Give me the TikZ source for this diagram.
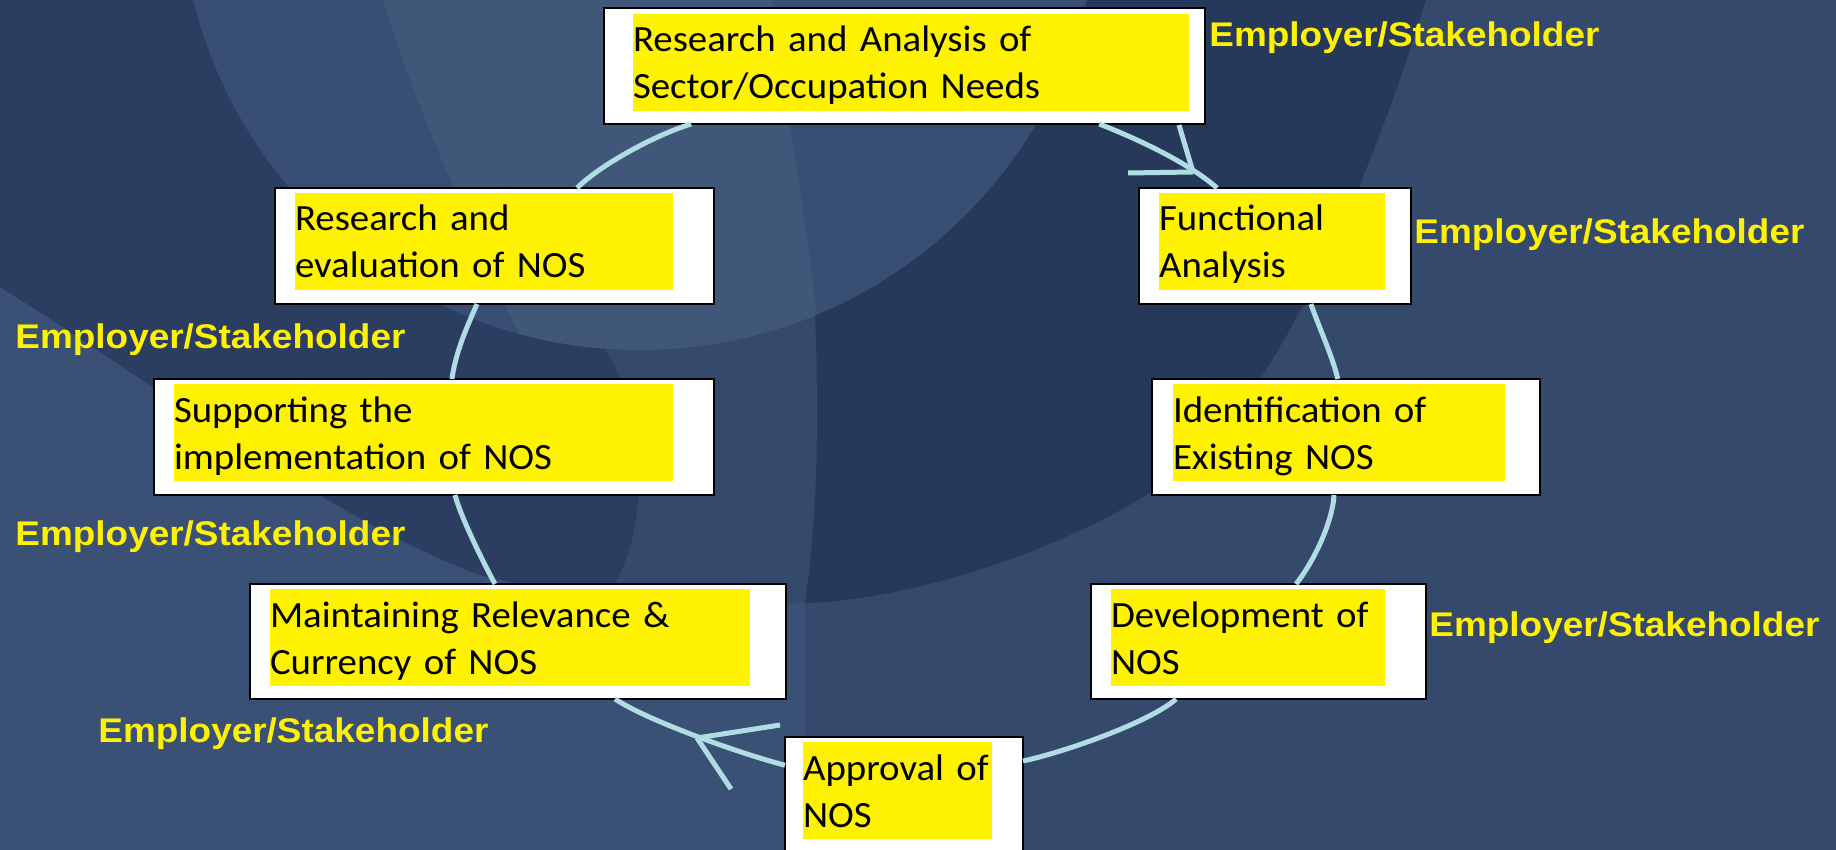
\documentclass[tikz,border=0pt]{standalone}
\usepackage{fontspec}
\newfontfamily\boxfont[FakeStretch=1.05]{Carlito}
\newfontfamily\labfont[FakeStretch=1.08]{Liberation Sans}
\usetikzlibrary{calc}
\definecolor{bgbase}{RGB}{52,73,107}
\definecolor{bgdark}{RGB}{39,57,90}
\definecolor{bgband}{RGB}{43,62,97}
\definecolor{bglens}{RGB}{56,78,115}
\definecolor{bglight}{RGB}{64,87,121}
\definecolor{bglow}{RGB}{58,81,117}
\definecolor{linkc}{RGB}{176,220,228}
\tikzset{
  box/.style={draw=black, line width=1pt, fill=white, anchor=north west, inner sep=0pt, outer sep=0pt},
  hl/.style={fill=yellow, anchor=north west, inner sep=0pt, outer sep=0pt, align=left,
             font=\boxfont\fontsize{18.5pt}{23.5pt}\selectfont},
  lab/.style={text=yellow, anchor=base west, inner sep=0pt, font=\labfont\bfseries\fontsize{17.1pt}{20pt}\selectfont},
  link/.style={draw=linkc, line width=2.5pt}
}
\newcommand\topstrut{\rule{0pt}{19pt}}
\newcommand\botstrut{\rule[-6pt]{0pt}{6pt}}
\begin{document}
\begin{tikzpicture}[x=0.5pt,y=-0.5pt]
\useasboundingbox (0,0) rectangle (1836,850);
\clip (0,0) rectangle (1836,850);
% background
\fill[bgbase] (0,0) rectangle (1836,850);
\fill[bglow] (0,287) .. controls (150,380) and (330,520) .. (480,575)
  .. controls (600,610) and (720,610) .. (805,603) -- (805,850) -- (0,850) -- cycle;
\fill[bgband] (0,0) -- (200,0) -- (600,340) .. controls (650,420) and (650,530) .. (610,592)
  .. controls (560,590) and (520,585) .. (480,575) .. controls (330,520) and (150,380) .. (0,287) -- cycle;
\fill[bgdark] (780,0) -- (1426,0) .. controls (1380,150) and (1300,350) .. (1200,457)
  .. controls (1100,540) and (920,600) .. (805,603) .. controls (820,500) and (830,300) .. (780,0) -- cycle;
\fill[bglens] (640,-110) circle[radius=460];
\begin{scope}
  \clip (640,-110) circle[radius=460];
  \fill[bglight] (383,0) .. controls (420,120) and (480,250) .. (540,380) -- (821,380)
    .. controls (815,250) and (790,150) .. (772,0) -- cycle;
\end{scope}

% boxes
\node[box, minimum width=300.5pt, minimum height=58pt] (top) at (604,8) {};
\node[box, minimum width=136pt, minimum height=58pt] (func) at (1139,188) {};
\node[box, minimum width=194pt, minimum height=58pt] (ident) at (1152,379) {};
\node[box, minimum width=167.5pt, minimum height=57.5pt] (dev) at (1091,584) {};
\node[box, minimum width=119pt, minimum height=60pt] (appr) at (785,737) {};
\node[box, minimum width=268pt, minimum height=57.5pt] (maint) at (250,584) {};
\node[box, minimum width=280pt, minimum height=58pt] (supp) at (154,379) {};
\node[box, minimum width=219.5pt, minimum height=58pt] (reval) at (275,188) {};

\node[hl, text width=278pt] (topT) at (633,14) {\topstrut\mbox{Research and Analysis of}\\\mbox{Sector/Occupation Needs}\botstrut};
\node[hl, text width=113pt] (funcT) at (1159,193) {\topstrut\mbox{Functional}\\\mbox{Analysis}\botstrut};
\node[hl, text width=166pt] (identT) at (1173,384) {\topstrut\mbox{Identification of}\\\mbox{Existing NOS}\botstrut};
\node[hl, text width=137pt] (devT) at (1111,589) {\topstrut\mbox{Development of}\\\mbox{NOS}\botstrut};
\node[hl, text width=94.5pt] (apprT) at (803,742) {\topstrut\mbox{Approval of}\\\mbox{NOS}\botstrut};
\node[hl, text width=240pt] (maintT) at (270,589) {\topstrut\mbox{Maintaining Relevance \&}\\\mbox{Currency of NOS}\botstrut};
\node[hl, text width=249.5pt] (suppT) at (174,384) {\topstrut\mbox{Supporting the}\\\mbox{implementation of NOS}\botstrut};
\node[hl, text width=189pt] (revalT) at (295,193) {\topstrut\mbox{Research and}\\\mbox{evaluation of NOS}\botstrut};

% connectors
\draw[link] ($(top.south west)!0.824!(top.south east)$) .. controls (1130,136) and (1185,160) .. ($(func.north west)!0.287!(func.north east)$);
\draw[link] ($(func.south west)!0.632!(func.south east)$) .. controls (1320,330) and (1332,355) .. ($(ident.north west)!0.479!(ident.north east)$);
\draw[link] ($(ident.south west)!0.469!(ident.south east)$) .. controls (1333,520) and (1315,560) .. ($(dev.north west)!0.612!(dev.north east)$);
\draw[link] ($(dev.south west)!0.254!(dev.south east)$) .. controls (1150,722) and (1065,752) .. ($(appr.north east)!0.2!(appr.south east)$);
\draw[link] ($(appr.north west)!0.235!(appr.south west)$) .. controls (745,755) and (650,722) .. ($(maint.south west)!0.681!(maint.south east)$);
\draw[link] ($(maint.north west)!0.457!(maint.north east)$) .. controls (482,560) and (460,515) .. ($(supp.south west)!0.5375!(supp.south east)$);
\draw[link] ($(supp.north west)!0.532!(supp.north east)$) .. controls (456,350) and (468,325) .. ($(reval.south west)!0.46!(reval.south east)$);
\draw[link] ($(reval.north west)!0.688!(reval.north east)$) .. controls (600,165) and (655,135) .. ($(top.south west)!0.145!(top.south east)$);
% arrowheads
\coordinate (tipA) at (1193,172);
\draw[link] (tipA) -- ++(-14,-47);
\draw[link] (tipA) -- ++(-65,1);
\coordinate (tipB) at (697,738);
\draw[link] (tipB) -- ++(83,-13);
\draw[link] (tipB) -- ++(34,51);

% labels
\node[lab] (s1) at (1209,47) {Employer/Stakeholder};
\node[lab] (s2) at (1414,244) {Employer/Stakeholder};
\node[lab] (s3) at (15,349) {Employer/Stakeholder};
\node[lab] (s4) at (15,545) {Employer/Stakeholder};
\node[lab] (s5) at (1429,636) {Employer/Stakeholder};
\node[lab] (s6) at (98,742) {Employer/Stakeholder};
\end{tikzpicture}
\end{document}
